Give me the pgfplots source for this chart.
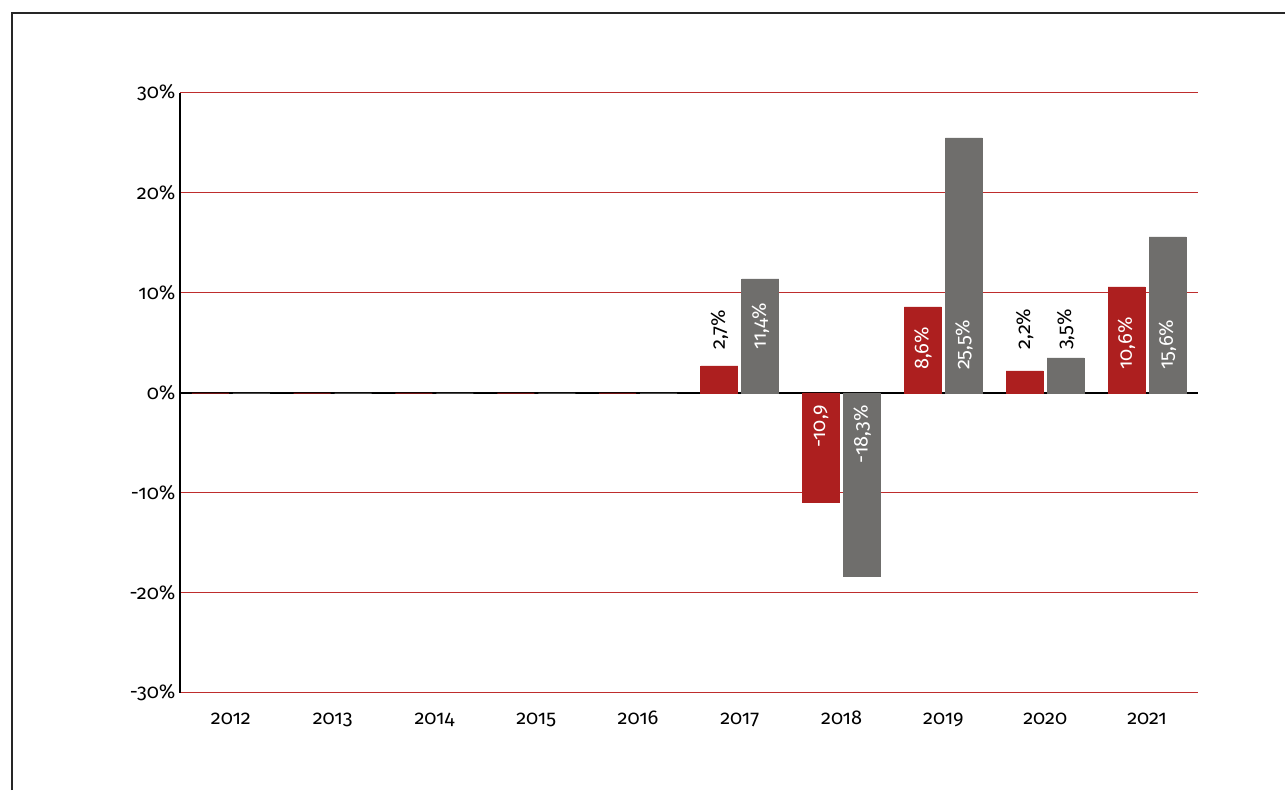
\documentclass[border=0pt]{standalone}
\usepackage{pgfplots}
\pgfplotsset{compat=1.18}
\usepackage{fontspec}
\setmainfont{Fira Sans}[RawFeature=+onum]
\definecolor{barred}{RGB}{173,31,31}
\definecolor{bargray}{RGB}{111,110,108}
\definecolor{gridred}{RGB}{190,45,45}
\begin{document}
\begin{tikzpicture}[x=1pt,y=1pt]
\useasboundingbox (0,0) rectangle (1285,790);
\draw[black!85, line width=1.6pt] (12,0) -- (12,777) -- (1285,777);
\begin{axis}[
  at={(180pt,97pt)}, anchor=south west,
  scale only axis, width=1018pt, height=600pt,
  xmin=-0.5, xmax=9.5, ymin=-30, ymax=30,
  ybar=4pt, bar width=37pt,
  axis x line=none, axis y line*=left,
  y axis line style={line width=2pt, black, -},
  ytick={-30,-20,...,30},
  yticklabels={-30\%,-20\%,-10\%,0\%,10\%,20\%,30\%},
  ymajorgrids, grid style={gridred, line width=1pt},
  major tick length=0pt,
  xtick={0,...,9},
  ticklabel style={font=\fontsize{20}{22}\selectfont},
  yticklabel style={xshift=-1pt},
  clip=false,
]
\draw[black, line width=2pt] (axis cs:-0.5,0) -- (axis cs:9.5,0);
\addplot[fill=barred, draw=barred, line width=0.8pt] coordinates {(0,0) (1,0) (2,0) (3,0) (4,0) (5,2.7) (6,-10.9) (7,8.6) (8,2.2) (9,10.6)};
\addplot[fill=bargray, draw=bargray, line width=0.8pt] coordinates {(0,0) (1,0) (2,0) (3,0) (4,0) (5,11.4) (6,-18.3) (7,25.5) (8,3.5) (9,15.6)};
\foreach \i/\y in {0/2012,1/2013,2/2014,3/2015,4/2016,5/2017,6/2018,7/2019,8/2020,9/2021}{
  \edef\temp{\noexpand\node[font=\noexpand\fontsize{20}{22}\noexpand\selectfont, anchor=base] at (axis cs:\i,-33.1) {\y};}
  \temp
}
\tikzset{lbl/.style={rotate=90, font=\fontsize{20}{22}\selectfont, inner sep=0pt}}
% 2017
\node[lbl, anchor=west, black] at ([xshift=-20.5pt]axis cs:5,4.3) {2,7\%};
\node[lbl, anchor=west, white] at ([xshift=20.5pt]axis cs:5,4.3) {11,4\%};
% 2018
\node[lbl, anchor=east, white] at ([xshift=-20.5pt]axis cs:6,-1.2) {-10,9};
\node[lbl, anchor=east, white] at ([xshift=20.5pt]axis cs:6,-1.2) {-18,3\%};
% 2019
\node[lbl, anchor=west, white] at ([xshift=-20.5pt]axis cs:7,2.3) {8,6\%};
\node[lbl, anchor=west, white] at ([xshift=20.5pt]axis cs:7,2.3) {25,5\%};
% 2020
\node[lbl, anchor=west, black] at ([xshift=-20.5pt]axis cs:8,4.3) {2,2\%};
\node[lbl, anchor=west, black] at ([xshift=20.5pt]axis cs:8,4.3) {3,5\%};
% 2021
\node[lbl, anchor=west, white] at ([xshift=-20.5pt]axis cs:9,2.3) {10,6\%};
\node[lbl, anchor=west, white] at ([xshift=20.5pt]axis cs:9,2.3) {15,6\%};
\end{axis}
\end{tikzpicture}
\end{document}
